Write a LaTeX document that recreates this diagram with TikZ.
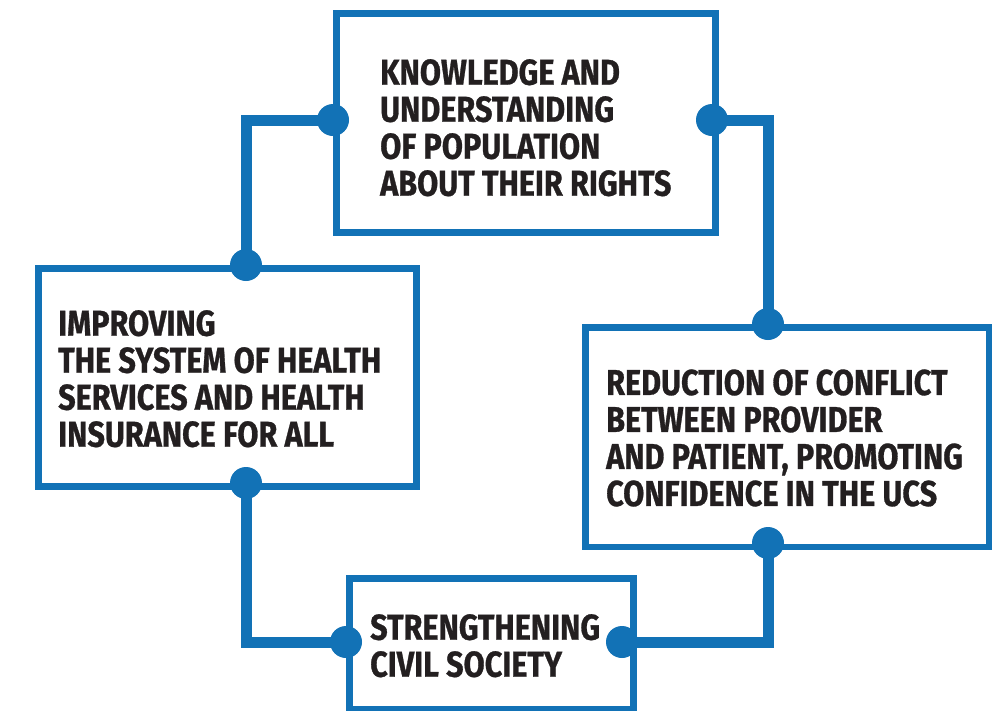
\documentclass[tikz,border=0pt]{standalone}
\usepackage{fontspec}
\newfontfamily\boxfont[FakeStretch=0.85, FakeBold=0.8]{Fira Sans}
\definecolor{ucsblue}{HTML}{1272B6}
\definecolor{inkdark}{HTML}{231F20}
\tikzset{
	frame/.style={draw=ucsblue, line width=6.5pt, fill=white, anchor=north west, inner sep=0pt},
	caption/.style={anchor=west, align=left, inner sep=0pt, text=inkdark,
		font=\boxfont\bfseries\fontsize{36}{37}\selectfont},
	dot/.style={circle, fill=ucsblue, inner sep=0pt, minimum size=32pt},
	link/.style={draw=ucsblue, line width=11pt}
}
\begin{document}
\begin{tikzpicture}[x=1pt, y=-1pt]
\useasboundingbox (0,0) rectangle (1002,710);

% the four boxes
\node[frame, minimum width=379pt, minimum height=219pt] (know) at (333,10) {};
\node[frame, minimum width=378pt, minimum height=218pt] (impr) at (35,265) {};
\node[frame, minimum width=403.5pt, minimum height=219.5pt] (redu) at (582,324) {};
\node[frame, minimum width=284pt, minimum height=131pt] (stren) at (346,575) {};

\node[caption] (knowtext) at ([xshift=47pt, yshift=-5pt]know.west)
	{KNOWLEDGE AND\\UNDERSTANDING\\OF POPULATION\\ABOUT THEIR RIGHTS};
\node[caption] (imprtext) at ([xshift=23pt, yshift=-1.5pt]impr.west)
	{IMPROVING\\THE SYSTEM OF HEALTH\\SERVICES AND HEALTH\\INSURANCE FOR ALL};
\node[caption] (redutext) at ([xshift=24pt, yshift=-1pt]redu.west)
	{REDUCTION OF CONFLICT\\BETWEEN PROVIDER\\AND PATIENT, PROMOTING\\CONFIDENCE IN THE UCS};
\node[caption] (strentext) at ([xshift=24pt, yshift=-2pt]stren.west)
	{STRENGTHENING\\CIVIL SOCIETY};

% dots on the box edges
\foreach \n/\x/\y in {dK1/333/120, dK2/712/120, dI1/246/265, dI2/246/483,
	dR1/768/324, dR2/768/543, dS1/346/642, dS2/622/642}
{
	\node[dot] (\n) at (\x,\y) {};
}

\draw[link] (dK1.center) -| (dI1.center);
\draw[link] (dK2.center) -| (dR1.center);
\draw[link] (dI2.center) |- (dS1.center);
\draw[link] (dR2.center) |- (dS2.center);
\end{tikzpicture}
\end{document}
